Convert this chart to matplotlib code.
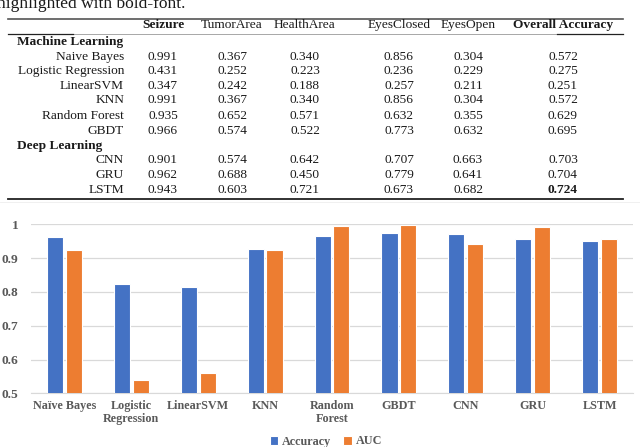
import matplotlib.pyplot as plt
import numpy as np
import matplotlib

matplotlib.rc('font', family='Liberation Serif')

# table data
col_names = ['Seizure', 'TumorArea', 'HealthArea', 'EyesClosed', 'EyesOpen', 'Overall Accuracy']
bold_cols = ['Seizure', 'Overall Accuracy']
ml_models = ['Naive Bayes', 'Logistic Regression', 'LinearSVM', 'KNN', 'Random Forest', 'GBDT']
dl_models = ['CNN', 'GRU', 'LSTM']
seizure = [0.991, 0.431, 0.347, 0.991, 0.935, 0.966, 0.901, 0.962, 0.943]
tumor_area = [0.367, 0.252, 0.242, 0.367, 0.652, 0.574, 0.574, 0.688, 0.603]
health_area = [0.340, 0.223, 0.188, 0.340, 0.571, 0.522, 0.642, 0.450, 0.721]
eyes_closed = [0.856, 0.236, 0.257, 0.856, 0.632, 0.773, 0.707, 0.779, 0.673]
eyes_open = [0.304, 0.229, 0.211, 0.304, 0.355, 0.632, 0.663, 0.641, 0.682]
overall = [0.572, 0.275, 0.251, 0.572, 0.629, 0.695, 0.703, 0.704, 0.724]

# bar chart data
categories = ['Naïve Bayes', 'Logistic\nRegression', 'LinearSVM', 'KNN', 'Random\nForest',
              'GBDT', 'CNN', 'GRU', 'LSTM']
accuracy = [0.963, 0.822, 0.814, 0.926, 0.965, 0.973, 0.971, 0.956, 0.950]
auc = [0.924, 0.540, 0.559, 0.923, 0.996, 0.998, 0.943, 0.991, 0.957]

W, H = 640, 447
fig = plt.figure(figsize=(W / 100, H / 100), dpi=100)

# overlay axes in pixel coords for the table part
bg = fig.add_axes([0, 0, 1, 1])
bg.set_xlim(0, W)
bg.set_ylim(H, 0)
bg.axis('off')

txt = '#1a1a1a'
# caption line is cut at the top edge, as in the source screenshot
bg.text(-3, 8, 'highlighted with bold-font.', fontsize=12.5, color=txt, va='baseline', ha='left')

bg.plot([8, 623], [19, 19], color='#555555', lw=1.2)
bg.plot([8, 623], [34, 34], color='#999999', lw=0.6)
bg.plot([8, 73], [34, 34], color='#222222', lw=0.9)
bg.plot([557, 623], [34, 34], color='#222222', lw=0.9)
bg.plot([8, 623], [199, 199], color='#222222', lw=1.3)
bg.plot([0, 640], [201.5, 201.5], color='#eeeeee', lw=0.6)

col_x = [163, 232, 305, 399, 468, 563]
fs = 9.6
for name, cx in zip(col_names, col_x):
    bg.text(cx, 25, name, ha='center', va='center', fontsize=fs, color=txt,
            weight='bold' if name in bold_cols else 'normal')

table_cols = [seizure, tumor_area, health_area, eyes_closed, eyes_open, overall]
row_y = [56.7, 71, 86, 100.3, 115.7, 130.7, 160.3, 174.7, 190]
bg.text(17, 41.7, 'Machine Learning', ha='left', va='center', fontsize=fs, weight='bold', color=txt)
bg.text(17, 145.7, 'Deep Learning', ha='left', va='center', fontsize=fs, weight='bold', color=txt)
best = int(np.argmax(overall))
for i, (model, ry) in enumerate(zip(ml_models + dl_models, row_y)):
    bg.text(124, ry, model, ha='right', va='center', fontsize=fs, color=txt)
    for j, (vals, cx) in enumerate(zip(table_cols, col_x)):
        is_best = (j == len(col_x) - 1 and i == best)
        bg.text(cx, ry, '%.3f' % vals[i], ha='center', va='center', fontsize=fs, color=txt,
                weight='bold' if is_best else 'normal')

# bar chart
ax = fig.add_axes([31 / W, 1 - 393.3 / H, (633 - 31) / W, (393.3 - 224.3) / H])
x = np.arange(len(categories))
bw = 0.24
ax.bar(x - 0.14, accuracy, bw, color='#4472C4', edgecolor='white', linewidth=0.8,
       label='Accuracy', zorder=3)
ax.bar(x + 0.14, auc, bw, color='#ED7D31', edgecolor='white', linewidth=0.8,
       label='AUC', zorder=3)
ax.set_xlim(-0.5, len(categories) - 0.5)
ax.set_ylim(0.5, 1.0)
ax.set_yticks([0.5, 0.6, 0.7, 0.8, 0.9, 1.0])
ax.set_yticklabels(['0.5', '0.6', '0.7', '0.8', '0.9', '1'])
ax.set_xticks(x)
ax.set_xticklabels(categories, linespacing=1.1)
grey = '#595959'
for lab in ax.get_xticklabels():
    lab.set_fontweight('bold')
    lab.set_color(grey)
    lab.set_fontsize(8.7)
for lab in ax.get_yticklabels():
    lab.set_fontweight('bold')
    lab.set_color(grey)
    lab.set_fontsize(9.6)
ax.tick_params(length=0, pad=5)
ax.tick_params(axis='y', pad=9)
ax.yaxis.grid(True, color='#d9d9d9', lw=0.9, zorder=0)
for s in ['top', 'right', 'left']:
    ax.spines[s].set_visible(False)
ax.spines['bottom'].set_color('#d9d9d9')
ax.set_facecolor('none')

leg = fig.legend(loc='center', bbox_to_anchor=(326 / W, 1 - 441.5 / H), ncol=2, frameon=False,
                 handlelength=0.7, handleheight=0.7, handletextpad=0.3, columnspacing=1.0,
                 prop={'weight': 'bold', 'size': 8.7})
for t in leg.get_texts():
    t.set_color(grey)

plt.savefig('out.png', dpi=100)
